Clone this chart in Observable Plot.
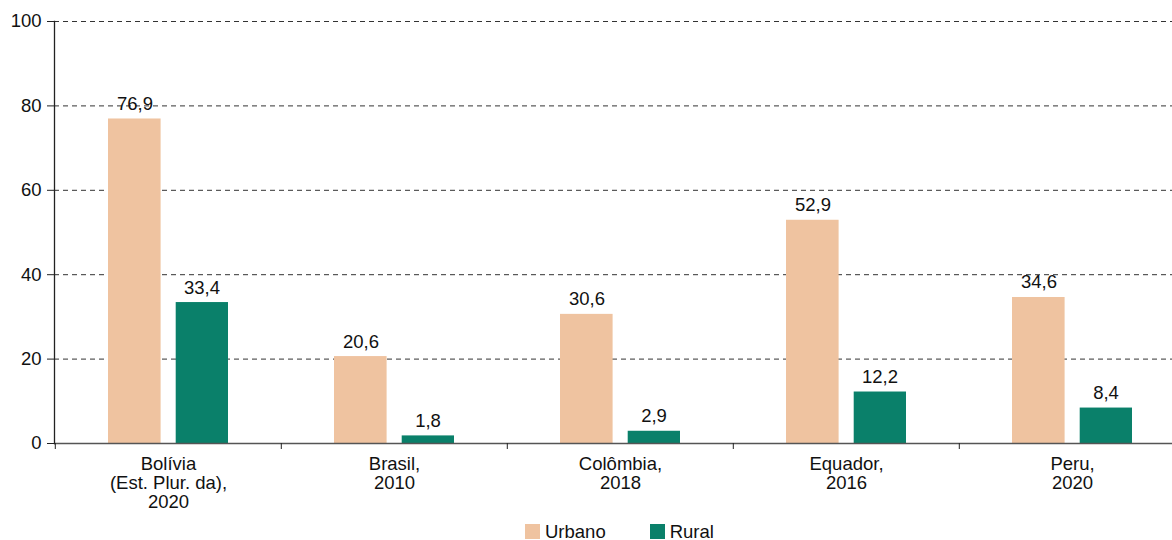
<!DOCTYPE html>
<html>
<head>
<meta charset="utf-8">
<script src="https://cdn.jsdelivr.net/npm/d3@7"></script>
<script src="https://cdn.jsdelivr.net/npm/@observablehq/plot@0.6"></script>
<style>
  html, body { margin: 0; padding: 0; background: #fff; }
  #chart { position: relative; width: 1172px; height: 540px; overflow: hidden; font-family: "Liberation Sans", Arial, sans-serif; }
  #chart > svg { position: absolute; left: 0; top: 0; }
  .lg-swatches { position: absolute; left: 525px; top: 515px; font: 18.5px "Liberation Sans", Arial, sans-serif !important; color: #111; margin: 0 !important; }
  .lg-swatch { margin-right: 44px !important; }
  .lg-swatch > svg { margin-right: 5px !important; }
</style>
</head>
<body>
<div id="chart"></div>
<script>
const countries = ["Bolívia\n(Est. Plur. da),\n2020", "Brasil,\n2010", "Colômbia,\n2018", "Equador,\n2016", "Peru,\n2020"];
const urbano = [76.9, 20.6, 30.6, 52.9, 34.6];
const rural = [33.4, 1.8, 2.9, 12.2, 8.4];
const series = ["Urbano", "Rural"];
const colors = ["#EFC3A0", "#0A806A"];
const yTicks = [0, 20, 40, 60, 80, 100];

const rows = countries.map((c, i) => ({country: c, urbano: urbano[i], rural: rural[i]}));
const fmt = v => v.toFixed(1).replace(".", ",");
const font = "'Liberation Sans', Arial, sans-serif";
const fs = 18.5;

const plot = Plot.plot({
  width: 1172,
  height: 515,
  marginLeft: 54,
  marginRight: 0,
  marginTop: 21,
  marginBottom: 72,
  style: {fontFamily: font, fontSize: fs + "px", color: "#111", background: "transparent", overflow: "visible"},
  x: {domain: countries, range: [54, 1186], padding: 0, axis: null},
  y: {domain: [0, 100], axis: null},
  color: {domain: series, range: colors},
  marks: [
    Plot.ruleY(yTicks.slice(1), {stroke: "#333", strokeWidth: 1, strokeDasharray: "5,4"}),
    Plot.barY(rows, {x: "country", y: "urbano", fill: () => series[0], insetLeft: 53, insetRight: 120.4}),
    Plot.barY(rows, {x: "country", y: "rural", fill: () => series[1], insetLeft: 120.7, insetRight: 53}),
    Plot.ruleY([0], {stroke: "#555", strokeWidth: 1.6}),
    Plot.frame({anchor: "left", stroke: "#222", strokeWidth: 1.3}),
    Plot.axisY(yTicks, {tickSize: 7, tickPadding: 6, fontSize: fs, label: null, stroke: "#222", fill: "#111"}),
    Plot.axisX({tickSize: 6, tickFormat: () => "", dx: -113.2, label: null, stroke: "#222"}),
    Plot.axisX({tickSize: 0, tickPadding: 13.3, fontSize: fs, lineHeight: 1.03, label: null, fill: "#111"}),
    Plot.text(rows, {x: "country", y: "urbano", text: d => fmt(d.urbano), dx: -33.5, dy: -9, lineAnchor: "bottom", fontSize: fs, fill: "#111"}),
    Plot.text(rows, {x: "country", y: "rural", text: d => fmt(d.rural), dx: 33.5, dy: -9, lineAnchor: "bottom", fontSize: fs, fill: "#111"})
  ]
});

const chart = document.getElementById("chart");
chart.appendChild(plot);
const legend = plot.legend("color", {legend: "swatches", swatchSize: 15, className: "lg"});
chart.appendChild(legend);
</script>
</body>
</html>
